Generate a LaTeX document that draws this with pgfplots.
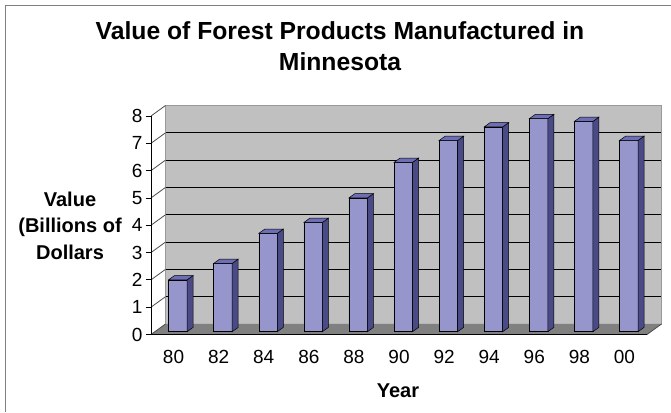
\documentclass[border=0pt]{standalone}
\usepackage{pgfplots}
\pgfplotsset{compat=1.18}
\usepackage{pgfplotstable}
\usepackage{fontspec}
\setmainfont{Liberation Sans}
\definecolor{wallc}{RGB}{192,192,192}
\definecolor{floorc}{RGB}{128,128,128}
\definecolor{frontc}{RGB}{150,150,204}
\definecolor{sidec}{RGB}{74,74,134}
\definecolor{topc}{RGB}{110,110,180}
\pgfdeclareplotmark{empty}{}
\pgfplotstableread{
x v
0.5 1.9
1.5 2.5
2.5 3.6
3.5 4.0
4.5 4.9
5.5 6.2
6.5 7.0
7.5 7.5
8.5 7.8
9.5 7.7
10.5 7.0
}\datatable
\begin{document}
\begin{tikzpicture}[x=1pt,y=1pt]
\useasboundingbox (0pt,0pt) rectangle (671pt,412pt);
\draw[gray, line width=1pt] (5.7pt,0pt) -- (5.7pt,406pt) -- (671pt,406pt);
\node[font=\fontsize{24.7}{29}\selectfont\bfseries, anchor=base, inner sep=0pt] at (340pt,372.3pt) {Value of Forest Products Manufactured in};
\node[font=\fontsize{24.7}{29}\selectfont\bfseries, anchor=base, inner sep=0pt] at (340pt,341pt) {Minnesota};
\node[font=\fontsize{20}{24}\selectfont\bfseries, anchor=base, inner sep=0pt] at (70pt,205.3pt) {Value};
\node[font=\fontsize{20}{24}\selectfont\bfseries, anchor=base, inner sep=0pt] at (70pt,179pt) {(Billions of};
\node[font=\fontsize{20}{24}\selectfont\bfseries, anchor=base, inner sep=0pt] at (70pt,152pt) {Dollars};
\node[font=\fontsize{20}{24}\selectfont\bfseries, anchor=base, inner sep=0pt] at (398pt,14.3pt) {Year};
\begin{axis}[
  at={(151pt,77.5pt)}, anchor=south west,
  width=496pt, height=218.5pt, scale only axis,
  xmin=0, xmax=11, ymin=0, ymax=8,
  clip=false, axis on top,
  axis x line*=bottom, axis y line*=left,
  axis line style={black, line width=0.8pt},
  xtick={0.5,1.5,...,10.5},
  xticklabels={80,82,84,86,88,90,92,94,96,98,00},
  minor xtick={0,1,...,11},
  xtick style={draw=none},
  minor x tick style={black, line width=0.8pt},
  minor tick length=4pt,
  ytick={0,...,8},
  ytick style={black, line width=0.8pt},
  major tick length=5pt,
  tick align=outside,
  ticklabel style={font=\fontsize{19}{22}\selectfont},
  xticklabel style={yshift=-7.5pt},
  /pgf/number format/assume math mode=true,
]
\fill[wallc] ([shift={(14.5pt,10.5pt)}]axis cs:0,0) rectangle ([shift={(14.5pt,10.5pt)}]axis cs:11,8);
\pgfplotsinvokeforeach{1,...,7}{\draw[black, line width=0.8pt] ([shift={(14.5pt,10.5pt)}]axis cs:0,#1) -- ([shift={(14.5pt,10.5pt)}]axis cs:11,#1);}
\draw[gray!80, line width=0.8pt] ([shift={(14.5pt,10.5pt)}]axis cs:0,0) rectangle ([shift={(14.5pt,10.5pt)}]axis cs:11,8);
\fill[floorc] (axis cs:0,0) -- (axis cs:11,0) -- ([shift={(14.5pt,10.5pt)}]axis cs:11,0) -- ([shift={(14.5pt,10.5pt)}]axis cs:0,0) -- cycle;
\pgfplotsinvokeforeach{0,...,8}{\draw[gray!60!black, line width=0.8pt] (axis cs:0,#1) -- ([shift={(14.5pt,10.5pt)}]axis cs:0,#1);}
\draw[gray!60!black, line width=0.8pt] (axis cs:11,0) -- ([shift={(14.5pt,10.5pt)}]axis cs:11,0);
\end{axis}
\begin{axis}[
  at={(155.3pt,80.3pt)}, anchor=south west,
  width=496pt, height=218.5pt, scale only axis,
  xmin=0, xmax=11, ymin=0, ymax=8,
  hide axis, clip=false,
]
\addplot[scatter, only marks, mark=empty,
  visualization depends on={\thisrow{v} \as \val},
  scatter/@pre marker code/.code={%
    \pgfmathsetlengthmacro\hh{\val*27.3125pt}%
    \fill[sidec, draw=black, line width=0.5pt] (9.25pt,0pt) -- (15.25pt,4.3pt) -- (15.25pt,{4.3pt-\hh}) -- (9.25pt,{-\hh}) -- cycle;
    \fill[topc, draw=black, line width=0.5pt] (-9.25pt,0pt) -- (9.25pt,0pt) -- (15.25pt,4.3pt) -- (-3.25pt,4.3pt) -- cycle;
  },
  scatter/@post marker code/.code={},
] table[x=x, y=v] {\datatable};
\addplot[ybar, bar width=18.5pt, fill=frontc, draw=black, line width=0.5pt] table[x=x, y=v] {\datatable};
\end{axis}
\end{tikzpicture}
\end{document}
